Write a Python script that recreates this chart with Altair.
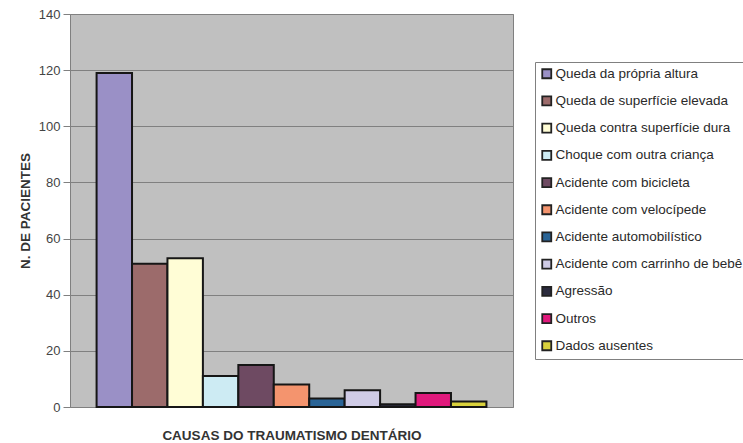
import altair as alt
import pandas as pd

categories = [
    "Queda da própria altura",
    "Queda de superfície elevada",
    "Queda contra superfície dura",
    "Choque com outra criança",
    "Acidente com bicicleta",
    "Acidente com velocípede",
    "Acidente automobilístico",
    "Acidente com carrinho de bebê",
    "Agressão",
    "Outros",
    "Dados ausentes",
]
values = [119, 51, 53, 11, 15, 8, 3, 6, 1, 5, 2]
colors = [
    "#9A90C6", "#9C6B6B", "#FFFDD6", "#CDEBF3", "#6E4A62", "#F4946E",
    "#2A6496", "#CFCBE6", "#2B2B3D", "#E0197C", "#D9D13C",
]
y_ticks = [0, 20, 40, 60, 80, 100, 120, 140]

df = pd.DataFrame({"causa": categories, "n": values})

font = "Liberation Sans"

chart = (
    alt.Chart(df)
    .mark_bar(stroke="#161616", strokeWidth=2)
    .encode(
        x=alt.X(
            "causa:N",
            sort=categories,
            scale=alt.Scale(paddingInner=0, paddingOuter=0.75),
            axis=alt.Axis(
                labels=False, ticks=False, domain=False, grid=False,
                title="CAUSAS DO TRAUMATISMO DENTÁRIO",
                titleFont=font, titleFontSize=13.5, titleFontWeight="bold",
                titleColor="#333333", titlePadding=21, minExtent=0,
            ),
        ),
        y=alt.Y(
            "n:Q",
            scale=alt.Scale(domain=[0, 140], nice=False),
            axis=alt.Axis(
                values=y_ticks, title="N. DE PACIENTES",
                titleFont=font, titleFontSize=13.5, titleFontWeight="bold",
                titleColor="#333333", titlePadding=6,
                labelFont=font, labelFontSize=13, labelColor="#444444",
                labelPadding=3, tickSize=7, tickColor="#808080",
                domainColor="#808080", gridColor="#808080", gridWidth=1,
            ),
        ),
        color=alt.Color(
            "causa:N",
            sort=categories,
            scale=alt.Scale(domain=categories, range=colors),
            legend=alt.Legend(
                title=None, orient="none", legendX=465, legendY=48,
                symbolType="square", symbolSize=81, symbolStrokeColor="#222222",
                symbolStrokeWidth=1.8, labelFont=font, labelFontSize=13.5,
                labelColor="#2a2a2a", rowPadding=10.2, labelOffset=2,
                strokeColor="#808080", fillColor="white", padding=5,
                labelLimit=300,
            ),
        ),
    )
    .properties(
        width=443, height=393,
        autosize=alt.AutoSizeParams(type="none"),
        padding={"left": 70, "top": 14, "right": 230, "bottom": 36},
        background="white",
    )
    .configure_view(fill="#C0C0C0", stroke="#808080", strokeWidth=1)
)

chart.save("out.html", embed_options={"renderer": "svg", "actions": False})
